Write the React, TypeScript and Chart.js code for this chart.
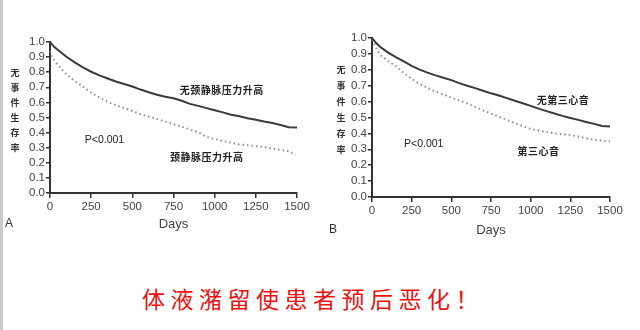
import React, { useEffect, useRef } from "react";
import { Chart, registerables } from "chart.js";

Chart.register(...registerables);

// ---------- data ----------
const daysCommon = [0, 25, 50, 100, 150, 200, 250, 300, 350, 400, 450, 500, 550, 600, 650, 700, 750, 800, 850, 900, 950, 1000, 1050, 1100, 1150, 1200, 1250, 1300, 1350, 1400, 1450, 1500];

// Panel A: jugular venous pressure
const survA_noJVP = [1.0, 0.968, 0.945, 0.902, 0.865, 0.832, 0.803, 0.779, 0.758, 0.738, 0.722, 0.705, 0.685, 0.667, 0.651, 0.638, 0.627, 0.611, 0.59, 0.577, 0.562, 0.548, 0.534, 0.518, 0.508, 0.495, 0.485, 0.473, 0.463, 0.45, 0.436, 0.434];
const daysA_JVP = [0, 10, 25, 50, 100, 150, 200, 250, 300, 350, 400, 450, 500, 550, 600, 650, 700, 750, 800, 850, 900, 950, 1000, 1050, 1100, 1150, 1200, 1250, 1300, 1350, 1400, 1450, 1490];
const survA_JVP = [0.94, 0.905, 0.88, 0.845, 0.785, 0.742, 0.705, 0.664, 0.633, 0.603, 0.582, 0.562, 0.543, 0.522, 0.505, 0.49, 0.472, 0.456, 0.44, 0.42, 0.402, 0.372, 0.356, 0.345, 0.332, 0.322, 0.317, 0.31, 0.304, 0.295, 0.286, 0.276, 0.25];

// Panel B: third heart sound
const survB_noS3 = [1.0, 0.97, 0.945, 0.91, 0.88, 0.853, 0.825, 0.801, 0.782, 0.765, 0.75, 0.735, 0.716, 0.7, 0.685, 0.668, 0.652, 0.638, 0.622, 0.605, 0.59, 0.573, 0.556, 0.54, 0.525, 0.51, 0.497, 0.485, 0.472, 0.46, 0.446, 0.444];
const survB_S3 = [0.99, 0.94, 0.895, 0.855, 0.825, 0.78, 0.742, 0.712, 0.685, 0.663, 0.645, 0.625, 0.608, 0.588, 0.567, 0.545, 0.525, 0.505, 0.485, 0.465, 0.446, 0.428, 0.418, 0.408, 0.4, 0.395, 0.39, 0.38, 0.37, 0.36, 0.355, 0.35];

// ---------- text ----------
const xAxisTitle = "Days";
const yAxisTitle = "无事件生存率";
const yTitleTicks = [0.8, 0.7, 0.6, 0.5, 0.4, 0.3];
const labelsA = ["无颈静脉压力升高", "颈静脉压力升高", "P<0.001"];
const labelsB = ["无第三心音", "第三心音", "P<0.001"];
const caption = "体液潴留使患者预后恶化！";

const LATIN = '"Liberation Sans", Arial, sans-serif';
const CJK = '"Noto Sans CJK SC", sans-serif';

type Anno = { text: string; x: number; y: number; cjk: boolean; spacing: number };

type PanelProps = {
  left: number;
  width: number;
  height: number;
  padTop: number;
  padRight: number;
  yAxisW: number;
  xAxisH: number;
  solidX: number[];
  solidY: number[];
  dotX: number[];
  dotY: number[];
  annos: Anno[];
  letter: string;
  letterX: number;
  titleY: number;
  yTitleOffset: number;
};

function Panel(p: PanelProps) {
  const ref = useRef<HTMLCanvasElement | null>(null);
  useEffect(() => {
    if (!ref.current) return;
    const toPts = (xs: number[], ys: number[]) => xs.map((x, i) => ({ x, y: ys[i] }));
    const textPlugin = {
      id: "texts",
      afterDraw(chart: any) {
        const { ctx, chartArea, scales } = chart;
        const sx = scales.x;
        const sy = scales.y;
        ctx.save();
        ctx.textAlign = "center";
        ctx.textBaseline = "middle";
        for (const a of p.annos) {
          ctx.fillStyle = "#222";
          ctx.font = a.cjk ? `bold 10px ${CJK}` : `10.5px ${LATIN}`;
          (ctx as any).letterSpacing = `${a.spacing}px`;
          ctx.fillText(a.text, sx.getPixelForValue(a.x), sy.getPixelForValue(a.y));
        }
        (ctx as any).letterSpacing = "0px";
        // vertical y title, one char per tick row
        ctx.font = `bold 9px ${CJK}`;
        ctx.fillStyle = "#333";
        const chars = Array.from(yAxisTitle);
        chars.forEach((c, i) => {
          ctx.fillText(c, chartArea.left - p.yTitleOffset, sy.getPixelForValue(yTitleTicks[i]));
        });
        // x title
        ctx.font = `13px ${LATIN}`;
        ctx.fillStyle = "#444";
        ctx.fillText(xAxisTitle, (chartArea.left + chartArea.right) / 2, p.titleY);
        // panel letter
        ctx.font = `12px ${LATIN}`;
        ctx.fillStyle = "#333";
        ctx.fillText(p.letter, p.letterX, p.titleY);
        ctx.restore();
      },
    };
    const tickFont = { family: LATIN, size: 11.5 };
    const chart = new Chart(ref.current, {
      type: "line",
      data: {
        datasets: [
          {
            data: toPts(p.solidX, p.solidY),
            borderColor: "#3a3a3a",
            borderWidth: 2,
            pointRadius: 0,
            tension: 0,
          },
          {
            data: toPts(p.dotX, p.dotY),
            borderColor: "#8f8f8f",
            borderWidth: 2,
            borderDash: [1.5, 3],
            pointRadius: 0,
            tension: 0,
          },
        ],
      },
      options: {
        animation: false,
        responsive: false,
        maintainAspectRatio: false,
        layout: { padding: { top: p.padTop, right: p.padRight, left: 0, bottom: 0 } },
        plugins: { legend: { display: false }, tooltip: { enabled: false }, title: { display: false } },
        scales: {
          x: {
            type: "linear",
            min: 0,
            max: 1500,
            ticks: {
              stepSize: 250,
              padding: 2,
              color: "#444",
              font: tickFont,
              maxRotation: 0,
              autoSkip: false,
              callback: (v: any) => String(Math.round(Number(v))),
            },
            grid: { drawOnChartArea: false, drawTicks: true, tickLength: 5, color: "#333", lineWidth: 1.5 },
            border: { display: true, color: "#333", width: 2 },
            afterFit: (s: any) => {
              s.height = p.xAxisH;
            },
          },
          y: {
            type: "linear",
            min: 0,
            max: 1,
            ticks: {
              stepSize: 0.1,
              padding: 1,
              color: "#444",
              font: tickFont,
              autoSkip: false,
              callback: (v: any) => Number(v).toFixed(1),
            },
            grid: { drawOnChartArea: false, drawTicks: true, tickLength: 4, color: "#333", lineWidth: 1.5 },
            border: { display: true, color: "#333", width: 2 },
            afterFit: (s: any) => {
              s.width = p.yAxisW;
            },
          },
        },
      },
      plugins: [textPlugin],
    } as any);
    return () => chart.destroy();
  }, []);
  return (
    <canvas
      ref={ref}
      width={p.width}
      height={p.height}
      style={{ position: "absolute", left: p.left, top: 0, width: p.width, height: p.height }}
    />
  );
}

export default function App() {
  const annosA: Anno[] = [
    { text: labelsA[0], x: 1043, y: 0.684, cjk: true, spacing: 0.5 },
    { text: labelsA[1], x: 952, y: 0.234, cjk: true, spacing: 0.5 },
    { text: labelsA[2], x: 331, y: 0.353, cjk: false, spacing: 0 },
  ];
  const annosB: Anno[] = [
    { text: labelsB[0], x: 1204, y: 0.606, cjk: true, spacing: 0.5 },
    { text: labelsB[1], x: 1050, y: 0.285, cjk: true, spacing: 0.5 },
    { text: labelsB[2], x: 326, y: 0.335, cjk: false, spacing: 0 },
  ];
  return (
    <div style={{ position: "absolute", left: 0, top: 0, width: 640, height: 330, background: "#fff", overflow: "hidden" }}>
      <div style={{ position: "absolute", left: 0, top: 0, width: 3, height: 330, background: "#cbcbcb" }} />
      <Panel
        left={0}
        width={320}
        height={240}
        padTop={42}
        padRight={23}
        yAxisW={50}
        xAxisH={47}
        solidX={daysCommon}
        solidY={survA_noJVP}
        dotX={daysA_JVP}
        dotY={survA_JVP}
        annos={annosA}
        letter="A"
        letterX={9}
        titleY={224}
        yTitleOffset={35}
      />
      <Panel
        left={320}
        width={320}
        height={240}
        padTop={38}
        padRight={30}
        yAxisW={52}
        xAxisH={43}
        solidX={daysCommon}
        solidY={survB_noS3}
        dotX={daysCommon}
        dotY={survB_S3}
        annos={annosB}
        letter="B"
        letterX={13}
        titleY={230}
        yTitleOffset={31}
      />
      <div
        style={{
          position: "absolute",
          left: 142,
          top: 284,
          fontFamily: CJK,
          fontSize: 23,
          letterSpacing: 5.5,
          color: "#ee1111",
          lineHeight: "28px",
          whiteSpace: "nowrap",
        }}
      >
        {caption}
      </div>
    </div>
  );
}
